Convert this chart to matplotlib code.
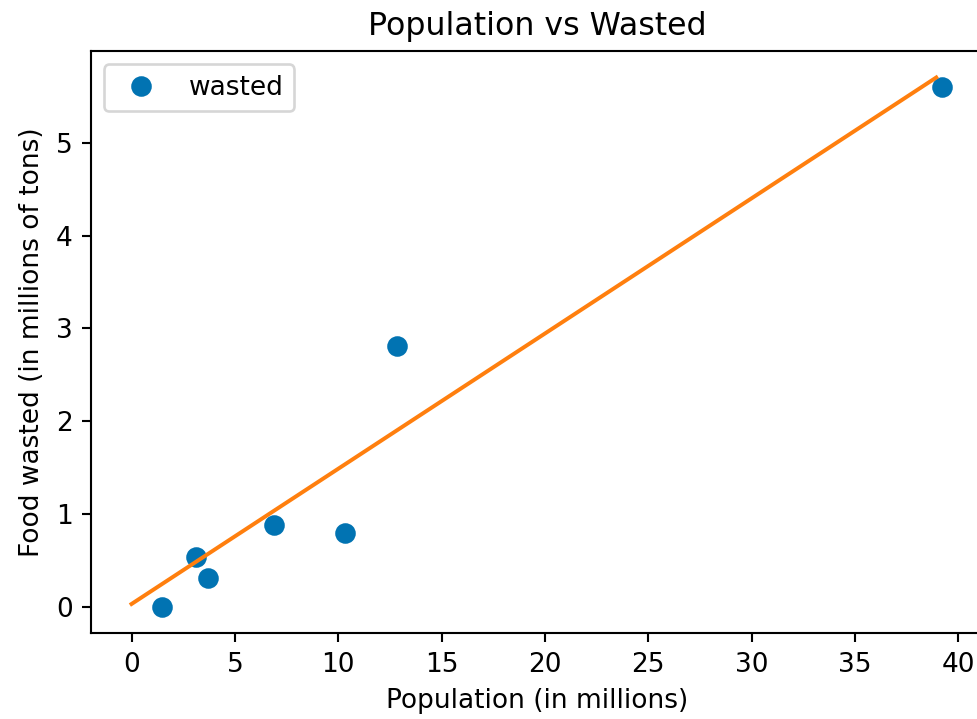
import numpy as np
import matplotlib
matplotlib.use("Agg")
import matplotlib.pyplot as plt

# population (millions) and food wasted (millions of tons)
population = [1.45, 3.14, 3.68, 6.87, 10.35, 12.82, 39.23]
wasted = [0.0, 0.54, 0.31, 0.88, 0.80, 2.81, 5.60]

# fitted line end points
fit_x = [0.0, 38.93]
fit_y = [0.03, 5.705]

fig = plt.figure(figsize=(977 / 190, 719 / 190), dpi=190)
ax = fig.add_axes([91 / 977, 0.1193, 0.913, 0.8097])

ax.plot(population, wasted, 'o', color='#0173B2', markersize=6.8, label='wasted')
ax.plot(fit_x, fit_y, color='#FF7F0E', linewidth=1.5)

ax.set_title('Population vs Wasted')
ax.set_xlabel('Population (in millions)')
ax.set_ylabel('Food wasted (in millions of tons)')
ax.set_xticks(np.arange(0, 41, 5))
ax.legend(loc='upper left')
# the reference is cropped just before the right spine
ax.spines['right'].set_visible(False)

fig.savefig('out.png', dpi=190)
